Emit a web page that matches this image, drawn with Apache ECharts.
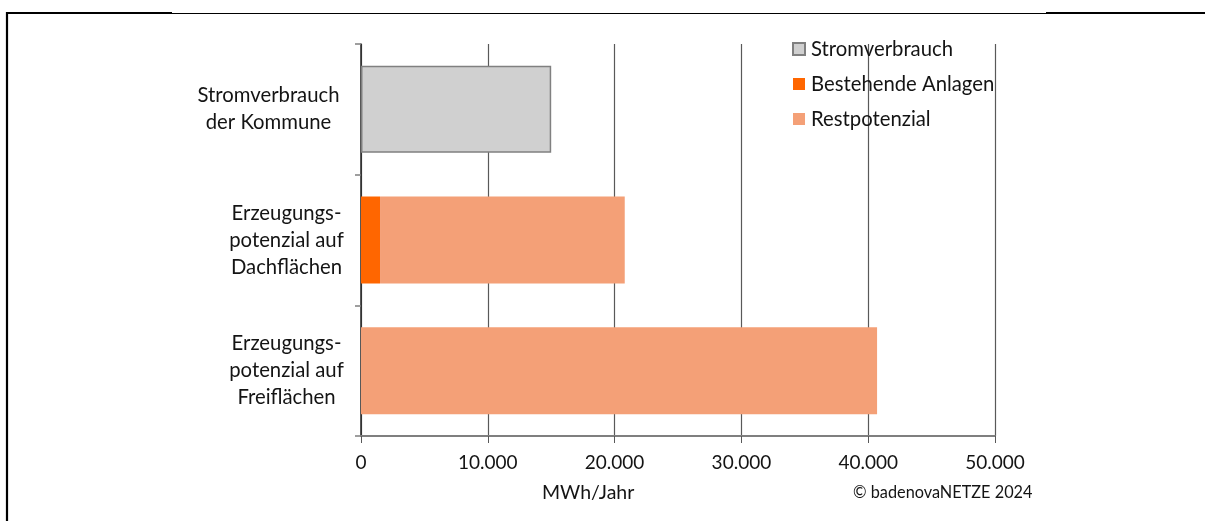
<!DOCTYPE html>
<html><head><meta charset="utf-8">
<script src="https://cdn.jsdelivr.net/npm/echarts@6/dist/echarts.min.js"></script>
<style>html,body{margin:0;padding:0;background:#fff}#c{width:1205px;height:521px}</style>
</head><body><div id="c"></div>
<script>
const categories = ['Stromverbrauch\nder Kommune', 'Erzeugungs-\npotenzial auf\nDachflächen', 'Erzeugungs-\npotenzial auf\nFreiflächen'];
const seriesNames = ['Stromverbrauch', 'Bestehende Anlagen', 'Restpotenzial'];
const stromverbrauch = [15000, '-', '-'];
const bestehendeAnlagen = ['-', 1500, '-'];
const restpotenzial = ['-', 19300, 40700];
const xMin = 0, xMax = 50000, xStep = 10000;
const unitLabel = 'MWh/Jahr';
const creditLabel = '© badenovaNETZE 2024';

const FONT = 'Lato';
const FS = 20.3;
const TXT = '#141414';
const chart = echarts.init(document.getElementById('c'), null, {renderer: 'canvas'});
function fmtNum(v) { return String(v).replace(/\B(?=(\d{3})+(?!\d))/g, '.'); }

chart.setOption({
  animation: false,
  backgroundColor: '#ffffff',
  textStyle: {fontFamily: FONT},
  grid: {left: 361, right: 210, top: 44, bottom: 85, containLabel: false},
  legend: {
    orient: 'vertical', left: 787, top: 34, itemWidth: 12, itemHeight: 12, itemGap: 15,
    icon: 'rect',
    textStyle: {fontFamily: FONT, fontSize: FS, color: TXT, padding: [0, 0, 0, 1]},
    data: seriesNames
  },
  xAxis: {
    type: 'value', min: xMin, max: xMax, interval: xStep,
    axisLine: {show: true, lineStyle: {color: '#7f7f7f', width: 2}},
    axisTick: {show: true, length: 7, lineStyle: {color: '#595959', width: 1}},
    splitLine: {show: true, lineStyle: {color: '#595959', width: 1.2}},
    axisLabel: {margin: 17, fontFamily: FONT, fontSize: 19, color: TXT, formatter: fmtNum}
  },
  yAxis: {
    type: 'category', inverse: true, data: categories,
    axisLine: {show: true, lineStyle: {color: '#262626', width: 1.5}},
    axisTick: {show: true, length: 6, lineStyle: {color: '#7f7f7f', width: 1.5}},
    axisLabel: {
      margin: 21, fontFamily: FONT, fontSize: FS, color: TXT, lineHeight: 27,
      formatter: function (v, i) {
        const key = i === 0 ? 'a' : 'b';
        return v.split('\n').map(s => '{' + key + '|' + s + '}').join('\n');
      },
      rich: {
        a: {width: 143, align: 'center', fontFamily: FONT, fontSize: FS, color: TXT, lineHeight: 27},
        b: {width: 107, align: 'center', fontFamily: FONT, fontSize: FS, color: TXT, lineHeight: 27}
      }
    }
  },
  series: [
    {name: seriesNames[0], type: 'bar', stack: 'total', data: stromverbrauch, barWidth: 87,
      itemStyle: {color: '#d0d0d0', borderColor: '#808080', borderWidth: 1.5}},
    {name: seriesNames[1], type: 'bar', stack: 'total', data: bestehendeAnlagen, barWidth: 87,
      itemStyle: {color: '#ff6600'}},
    {name: seriesNames[2], type: 'bar', stack: 'total', data: restpotenzial, barWidth: 87,
      itemStyle: {color: '#f4a077'}}
  ],
  graphic: [
    {type: 'line', shape: {x1: 7, y1: 12, x2: 7, y2: 521}, style: {stroke: '#000', lineWidth: 2.2}},
    {type: 'line', shape: {x1: 6, y1: 13, x2: 172, y2: 13}, style: {stroke: '#000', lineWidth: 2.2}},
    {type: 'line', shape: {x1: 172, y1: 13.5, x2: 1046, y2: 13.5}, style: {stroke: '#000', lineWidth: 1}},
    {type: 'line', shape: {x1: 1046, y1: 13, x2: 1205, y2: 13}, style: {stroke: '#000', lineWidth: 2.2}},
    {type: 'text', left: 542, top: 483, style: {text: unitLabel, fontFamily: FONT, fontSize: 19.5, fill: TXT}},
    {type: 'text', left: 853, top: 485, style: {text: creditLabel, fontFamily: FONT, fontSize: 16.3, fill: TXT}}
  ]
});
</script></body></html>
